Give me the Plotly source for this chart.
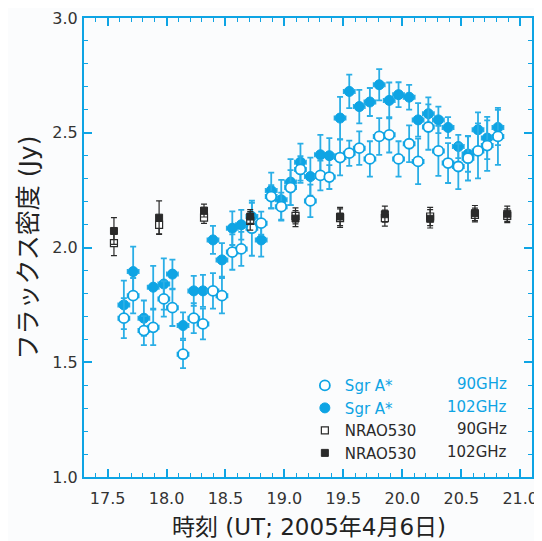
import plotly.graph_objects as go

# ---- data ----
sgr_time = [17.638, 17.717, 17.808, 17.887, 17.977, 18.050, 18.140, 18.231, 18.309, 18.394,
            18.470, 18.558, 18.634, 18.724, 18.803, 18.888, 18.973, 19.052, 19.136, 19.220,
            19.305, 19.381, 19.472, 19.550, 19.635, 19.725, 19.804, 19.889, 19.968, 20.058,
            20.134, 20.221, 20.306, 20.388, 20.475, 20.557, 20.642, 20.720, 20.811]
sgr_102 = [1.750, 1.895, 1.692, 1.827, 1.841, 1.884, 1.660, 1.811, 1.811, 2.033,
           1.946, 2.084, 2.099, 2.135, 2.033, 2.248, 2.208, 2.285, 2.372, 2.309,
           2.404, 2.400, 2.564, 2.680, 2.614, 2.634, 2.709, 2.641, 2.666, 2.655,
           2.556, 2.583, 2.556, 2.523, 2.440, 2.407, 2.513, 2.477, 2.523]
sgr_102_err = [0.106, 0.109, 0.077, 0.093, 0.112, 0.063, 0.057, 0.065, 0.070, 0.061,
               0.073, 0.073, 0.065, 0.060, 0.073, 0.078, 0.087, 0.100, 0.081, 0.083,
               0.087, 0.077, 0.092, 0.073, 0.073, 0.061, 0.068, 0.078, 0.054, 0.054,
               0.073, 0.071, 0.058, 0.045, 0.051, 0.077, 0.076, 0.092, 0.077]
sgr_90 = [1.692, 1.790, 1.638, 1.652, 1.776, 1.738, 1.535, 1.692, 1.667, 1.811,
          1.790, 1.980, 1.994, 2.084, 2.106, 2.222, 2.178, 2.261, 2.340, 2.203,
          2.314, 2.307, 2.392, 2.411, 2.433, 2.386, 2.484, 2.491, 2.386, 2.452,
          2.375, 2.525, 2.421, 2.368, 2.353, 2.389, 2.421, 2.444, 2.484]
sgr_90_err = [0.087, 0.077, 0.063, 0.077, 0.077, 0.080, 0.061, 0.065, 0.067, 0.077,
              0.077, 0.077, 0.074, 0.120, 0.050, 0.050, 0.061, 0.076, 0.058, 0.071,
              0.065, 0.052, 0.078, 0.055, 0.073, 0.077, 0.080, 0.077, 0.077, 0.080,
              0.099, 0.099, 0.109, 0.087, 0.099, 0.097, 0.120, 0.110, 0.124]
sgr_time_err = [0.048] * len(sgr_time)

nrao_time = [17.554, 17.937, 18.318, 18.710, 19.094, 19.472, 19.852, 20.236, 20.616, 20.890]
nrao_102 = [2.072, 2.130, 2.161, 2.135, 2.126, 2.135, 2.145, 2.125, 2.150, 2.147]
nrao_102_err = [0.058, 0.073, 0.028, 0.030, 0.035, 0.040, 0.035, 0.040, 0.033, 0.033]
nrao_90 = [2.019, 2.099, 2.130, 2.116, 2.138, 2.128, 2.128, 2.135, 2.142, 2.138]
nrao_90_err = [0.054, 0.039, 0.025, 0.040, 0.035, 0.040, 0.035, 0.040, 0.030, 0.030]

x_ticks = [17.5, 18.0, 18.5, 19.0, 19.5, 20.0, 20.5, 21.0]
y_ticks = [1.0, 1.5, 2.0, 2.5, 3.0]

BLUE = "#0EA4E4"
EBLUE = "#2AAEE6"
DARK = "#2a2a2a"
FONT = "DejaVu Sans, Noto Sans CJK JP"

fig = go.Figure()

fig.add_trace(go.Scatter(
    x=sgr_time, y=sgr_102, mode="markers", name=f'<span style="color:{BLUE}">Sgr A*</span>',
    legendrank=2,
    marker=dict(symbol="circle", size=10, color=BLUE, line=dict(color=BLUE, width=1)),
    error_y=dict(type="data", array=sgr_102_err, color=EBLUE, thickness=1.8, width=3),
    error_x=dict(type="data", array=sgr_time_err, color=EBLUE, thickness=1.5, width=2.5),
))
fig.add_trace(go.Scatter(
    x=sgr_time, y=sgr_90, mode="markers", name=f'<span style="color:{BLUE}">Sgr A*</span>',
    legendrank=1,
    marker=dict(symbol="circle", size=10, color="white", line=dict(color=BLUE, width=1.8)),
    error_y=dict(type="data", array=sgr_90_err, color=EBLUE, thickness=1.8, width=3),
    error_x=dict(type="data", array=sgr_time_err, color=EBLUE, thickness=1.5, width=2.5),
))
fig.add_trace(go.Scatter(
    x=nrao_time, y=nrao_90, mode="markers", name="NRAO530",
    legendrank=3,
    marker=dict(symbol="square", size=7, color="white", line=dict(color=DARK, width=1.2)),
    error_y=dict(type="data", array=nrao_90_err, color=DARK, thickness=1.2, width=3),
))
fig.add_trace(go.Scatter(
    x=nrao_time, y=nrao_102, mode="markers", name="NRAO530",
    legendrank=4,
    marker=dict(symbol="square", size=7, color=DARK, line=dict(color=DARK, width=1)),
    error_y=dict(type="data", array=nrao_102_err, color=DARK, thickness=1.2, width=3),
))

# frequency column of the legend
freq_labels = ["90GHz", "102GHz", "90GHz", "102GHz"]
freq_colors = [BLUE, BLUE, DARK, DARK]
row_y = [0.2026, 0.1532, 0.1037, 0.0545]
for lab, col, yy in zip(freq_labels, freq_colors, row_y):
    fig.add_annotation(x=0.948, y=yy, xref="paper", yref="paper", text=lab,
                       showarrow=False, xanchor="right", yanchor="middle",
                       font=dict(family=FONT, size=15, color=col))

# axis titles
fig.add_annotation(x=0.502, y=-0.108, xref="paper", yref="paper",
                   text="時刻 (UT; 2005年4月6日)", showarrow=False, borderpad=0,
                   xanchor="center", yanchor="middle",
                   font=dict(family=FONT, size=23, color="#222222"))
fig.add_annotation(x=-0.1228, y=0.5, xref="paper", yref="paper",
                   text="フラックス密度 (Jy)", showarrow=False, textangle=-90,
                   xanchor="center", yanchor="middle",
                   font=dict(family=FONT, size=25, color="#222222"))

axis_common = dict(
    ticks="inside", ticklen=8, tickwidth=1.5, tickcolor=BLUE,
    showline=True, linecolor=BLUE, linewidth=2, mirror="ticks",
    showgrid=False, zeroline=False, tickformat=".1f", automargin=False,
    tickfont=dict(family=FONT, size=16, color="#333333"),
    minor=dict(ticks="inside", ticklen=4, tickwidth=1.3, tickcolor=BLUE, dtick=0.1, showgrid=False),
)

fig.update_xaxes(range=[17.3, 21.1], tickvals=x_ticks, ticklabelstandoff=6, **axis_common)
fig.update_yaxes(range=[1.0, 3.0], tickvals=y_ticks, ticklabelstandoff=1, **axis_common)

# page body has an 8px default margin, so the figure is sized to fit the window
fig.update_layout(
    width=534, height=533,
    margin=dict(l=76, r=10, t=10, b=64),
    paper_bgcolor="#FBFCFD", plot_bgcolor="#FBFCFD",
    showlegend=True,
    legend=dict(x=0.493, y=0.235, xanchor="left", yanchor="top",
                bgcolor="rgba(0,0,0,0)", font=dict(family=FONT, size=15, color=DARK),
                itemwidth=30, tracegroupgap=0),
)

fig.write_html("out.html")
